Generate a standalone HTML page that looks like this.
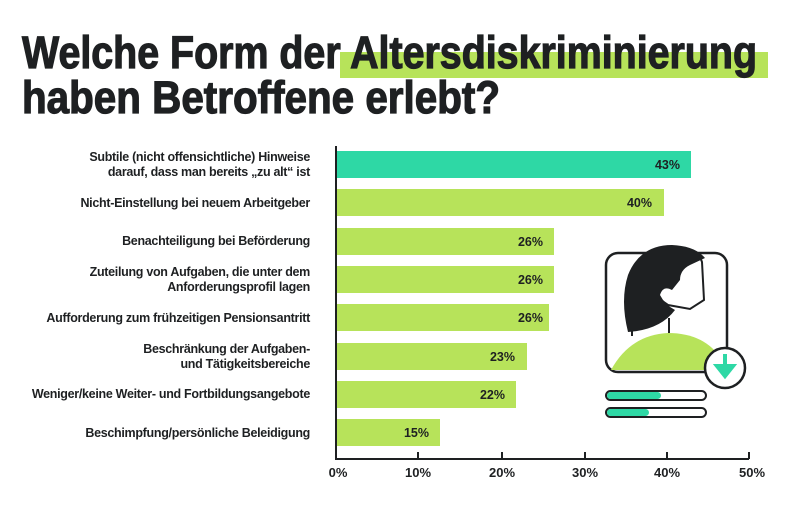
<!DOCTYPE html>
<html><head><meta charset="utf-8"><style>
body{margin:0;width:800px;height:520px;background:#fff;overflow:hidden;font-family:"Liberation Sans",sans-serif;color:#1e2022}
.lab{position:absolute;right:490px;font-size:12.5px;font-weight:bold;text-align:right;line-height:15px;font-family:"Liberation Sans",sans-serif;letter-spacing:-0.3px}
</style></head><body>
<div class="lab" style="top:150px">Subtile (nicht offensichtliche) Hinweise<br>darauf, dass man bereits „zu alt“ ist</div>
<div class="lab" style="top:196px">Nicht-Einstellung bei neuem Arbeitgeber</div>
<div class="lab" style="top:234px">Benachteiligung bei Beförderung</div>
<div class="lab" style="top:265px">Zuteilung von Aufgaben, die unter dem<br>Anforderungsprofil lagen</div>
<div class="lab" style="top:311px">Aufforderung zum frühzeitigen Pensionsantritt</div>
<div class="lab" style="top:342px">Beschränkung der Aufgaben-<br>und Tätigkeitsbereiche</div>
<div class="lab" style="top:387px">Weniger/keine Weiter- und Fortbildungsangebote</div>
<div class="lab" style="top:426px">Beschimpfung/persönliche Beleidigung</div>
<svg width="800" height="520" style="position:absolute;left:0;top:0" font-family="Liberation Sans, sans-serif" font-weight="bold" font-size="12.5" fill="#1e2022">
<rect x="340" y="52" width="428" height="26" fill="#b7e35a"/>
<g stroke="#1e2022" stroke-width="1.2">
<text x="22" y="68" font-size="45" textLength="735" lengthAdjust="spacingAndGlyphs">Welche Form der Altersdiskriminierung</text>
<text x="22" y="113" font-size="45" textLength="478" lengthAdjust="spacingAndGlyphs">haben Betroffene erlebt?</text>
</g>
<rect x="337" y="151" width="354" height="27" fill="#2ed8a5"/>
<rect x="337" y="189" width="327" height="27" fill="#b7e35a"/>
<rect x="337" y="228" width="217" height="27" fill="#b7e35a"/>
<rect x="337" y="266" width="217" height="27" fill="#b7e35a"/>
<rect x="337" y="304" width="212" height="27" fill="#b7e35a"/>
<rect x="337" y="343" width="190" height="27" fill="#b7e35a"/>
<rect x="337" y="381" width="179" height="27" fill="#b7e35a"/>
<rect x="337" y="419" width="103" height="27" fill="#b7e35a"/>
<g text-anchor="end">
<text x="680" y="169">43%</text><text x="652" y="207">40%</text><text x="543" y="246">26%</text><text x="543" y="284">26%</text><text x="543" y="322">26%</text><text x="515" y="361">23%</text><text x="505" y="399">22%</text><text x="429" y="437">15%</text>
</g>
<path d="M336 146V459H749" stroke="#1e2022" stroke-width="2" fill="none"/>
<g stroke="#1e2022" stroke-width="2"><line x1="418" y1="452" x2="418" y2="459"/><line x1="502" y1="452" x2="502" y2="459"/><line x1="585" y1="452" x2="585" y2="459"/><line x1="667" y1="452" x2="667" y2="459"/><line x1="749" y1="452" x2="749" y2="459"/></g>
<g text-anchor="middle" font-size="13"><text x="338" y="477">0%</text><text x="418" y="477">10%</text><text x="502" y="477">20%</text><text x="585" y="477">30%</text><text x="667" y="477">40%</text><text x="752" y="477">50%</text></g>
<rect x="606" y="253" width="121" height="119" rx="12" fill="#fff" stroke="#1e2022" stroke-width="2.5"/>
<path d="M611 370 Q630 335 668 333 Q705 333 722 360 L722 370Z" fill="#b7e35a"/>
<path d="M632 336V318M669 333V318" stroke="#1e2022" stroke-width="2"/>
<path d="M655 296 L650 275 Q645 265 654 262 L662 264 L670 258 L690 253 Q700 255 702 262 L704 300 L690 309 L668 305Z" fill="#fff" stroke="#1e2022" stroke-width="2"/>
<path d="M628 332 Q620 300 628 275 Q640 245 672 245 Q695 246 705 258 L690 265 Q680 270 680 280 L672 290 Q663 285 660 295 Q665 305 675 310 Q660 330 628 332Z" fill="#1e2022"/>
<circle cx="725" cy="368" r="20" fill="#fff" stroke="#1e2022" stroke-width="2.5"/>
<path d="M725 354V370M717 366L725 376L733 366Z" stroke="#2ed8a5" stroke-width="4" fill="#2ed8a5"/>
<rect x="606" y="391" width="100" height="9" rx="4.5" fill="#fff" stroke="#1e2022" stroke-width="2"/>
<rect x="607" y="392" width="54" height="7" rx="3.5" fill="#2ed8a5"/>
<rect x="606" y="408" width="100" height="9" rx="4.5" fill="#fff" stroke="#1e2022" stroke-width="2"/>
<rect x="607" y="409" width="42" height="7" rx="3.5" fill="#2ed8a5"/>
</svg>
</body></html>
